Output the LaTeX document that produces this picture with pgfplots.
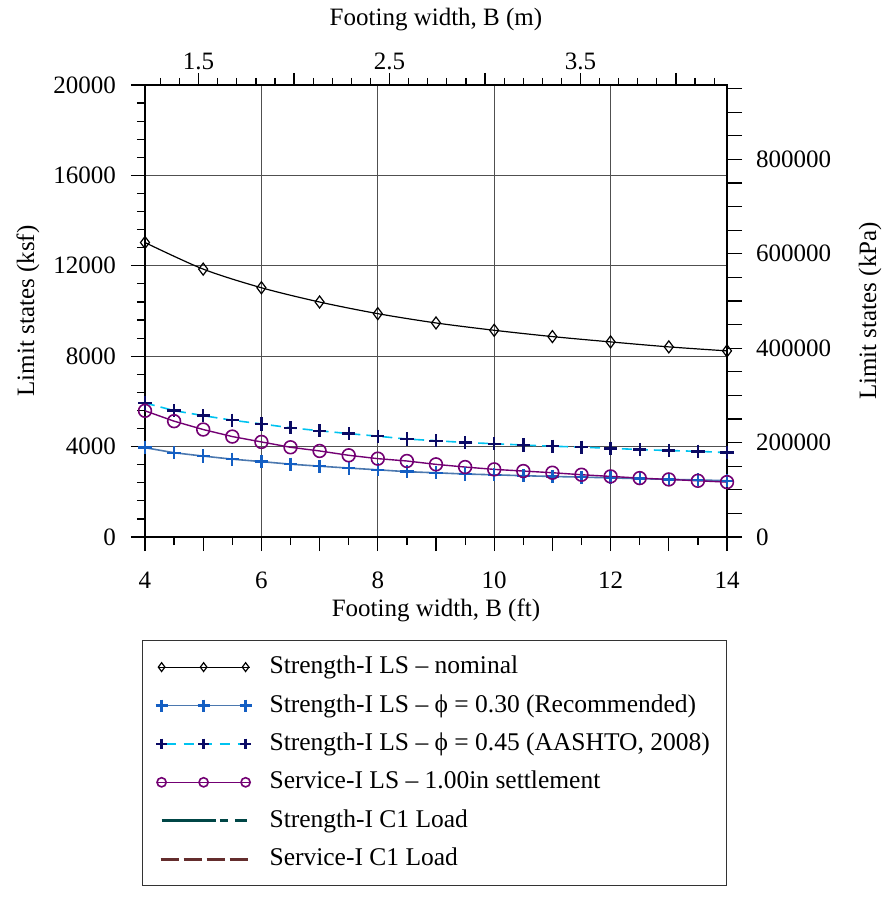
\documentclass[border=0pt]{standalone}
\usepackage{fontspec}
\setmainfont{Liberation Serif}
\usepackage{pgfplots}
\pgfplotsset{compat=1.18}
\definecolor{c30m}{RGB}{20,95,195}
\definecolor{c30l}{RGB}{75,120,175}
\definecolor{c45m}{RGB}{10,10,100}
\definecolor{c45l}{RGB}{0,195,240}
\definecolor{csv}{RGB}{115,0,115}
\definecolor{cc1}{RGB}{0,70,70}
\definecolor{csc1}{RGB}{100,45,45}
\definecolor{gridc}{RGB}{80,80,80}
\begin{document}
\begin{tikzpicture}[font=\fontsize{12.5}{15}\selectfont]
\path[use as bounding box] (-72.5pt,-180.5pt) rectangle (373pt,268.5pt);
% top axis (m)
\begin{axis}[at={(0,0)}, anchor=south west, width=291pt, height=226pt, scale only axis,
  xmin=1.2192, xmax=4.2672, ymin=0, ymax=1,
  axis x line*=top, axis y line=none, x axis line style={-, line width=0.7pt},
  xtick={1.5,2.5,3.5}, extra x ticks={2,3,4}, extra x tick labels={},
  minor xtick={1.3,1.4,...,4.25},
  tick align=outside, major tick length=6pt, minor tick length=3.5pt,
  tick style={black, line width=0.6pt},
  /pgf/number format/assume math mode=true,
  xticklabel style={/pgf/number format/fixed, /pgf/number format/precision=1, yshift=-2pt},
  xlabel={Footing width, B (m)},
  xlabel style={at={(axis description cs:0.5,1.145)}, anchor=center},
]
\end{axis}
% right axis (kPa)
\begin{axis}[at={(0,0)}, anchor=south west, width=291pt, height=226pt, scale only axis,
  xmin=0, xmax=1, ymin=0, ymax=957605.2,
  axis y line*=right, axis x line=none, y axis line style={-, line width=0.7pt},
  ytick={0,200000,...,800000}, minor ytick={50000,100000,...,950000},
  scaled y ticks=false,
  tick align=outside, major tick length=7.5pt, minor tick length=7.5pt,
  tick style={black, line width=0.6pt},
  /pgf/number format/assume math mode=true,
  yticklabel style={/pgf/number format/fixed, /pgf/number format/1000 sep={}, xshift=3.5pt},
  ylabel={Limit states (kPa)},
  ylabel style={at={(axis description cs:1.2457,0.5)}, anchor=center, rotate=0},
]
\end{axis}
% main axis
\begin{axis}[at={(0,0)}, anchor=south west, width=291pt, height=226pt, scale only axis,
  xmin=4, xmax=14, ymin=0, ymax=20000,
  xtick={4,6,...,14}, extra x ticks={5,7,9,11,13}, extra x tick labels={},
  extra x tick style={grid=none},
  minor xtick={4.5,5.5,...,13.5},
  ytick={0,4000,...,20000}, minor y tick num=4,
  scaled y ticks=false,
  xtick pos=left, ytick pos=left, tick align=outside,
  major tick length=7pt, minor tick length=4pt,
  tick style={black, line width=0.6pt},
  grid=major, major grid style={gridc, line width=0.6pt},
  axis line style={black, line width=0.7pt},
  /pgf/number format/assume math mode=true,
  xticklabel style={yshift=-7pt},
  yticklabel style={/pgf/number format/fixed, /pgf/number format/1000 sep={}, xshift=-4pt},
  xlabel={Footing width, B (ft)},
  xlabel style={at={(axis description cs:0.5,-0.1615)}, anchor=center},
  ylabel={Limit states (ksf)},
  ylabel style={at={(axis description cs:-0.201,0.5)}, anchor=center},
  clip=false,
  legend cell align=left,
  legend style={at={(axis description cs:0,0)}, anchor=north west, xshift=-1.5pt, yshift=-51.5pt,
    draw=black!80, line width=0.6pt, fill=white, inner xsep=6.5pt, inner ysep=5.5pt,
    row sep=3.7pt, column sep=7pt,
    font=\fontsize{12.75}{15}\selectfont,
    nodes={inner ysep=1.5pt, text height=9.5pt, text depth=3pt}},
]
\addplot[black, line width=0.6pt, smooth, mark=diamond, mark size=3pt, mark options={solid, black, line width=0.6pt},
  legend image code/.code={
    \draw[black, line width=0.6pt] (0pt,0pt) -- (46pt,0pt);
    \draw[black, line width=0.5pt] plot[mark=diamond, mark size=2.2pt, only marks] coordinates {(2pt,0pt) (23pt,0pt) (44pt,0pt)};
  }] table {
x y
4 13029
5 11853
6 11029
7 10397
8 9882
9 9471
10 9147
11 8868
12 8632
13 8412
14 8235
};
\addlegendentry{Strength-I LS -- nominal}
\addplot[c30l, line width=0.8pt, mark=+, mark size=3.3pt, mark options={solid, c30m, line width=1.2pt},
  legend image code/.code={
    \draw[c30l, line width=0.8pt] (0pt,0pt) -- (46pt,0pt);
    \draw[c30m, line width=1.1pt] plot[mark=+, mark size=3pt, only marks] coordinates {(2pt,0pt) (23pt,0pt) (44pt,0pt)};
  }] table {
x y
4 3953
4.5 3728
5 3580
5.5 3444
6 3336
6.5 3222
7 3133
7.5 3050
8 2973
8.5 2890
9 2840
9.5 2787
10 2752
10.5 2712
11 2678
11.5 2650
12 2616
12.5 2580
13 2550
13.5 2527
14 2490
};
\addlegendentry{Strength-I LS -- ϕ = 0.30 (Recommended)}
\addplot[c45l, line width=0.8pt, dash pattern=on 5pt off 3pt, mark=+, mark size=3.3pt, mark options={solid, c45m, line width=1.2pt},
  legend image code/.code={
    \draw[c45l, line width=0.8pt, dash pattern=on 5pt off 4pt] (4pt,0pt) -- (46pt,0pt);
    \draw[c45m, line width=1.1pt] plot[mark=+, mark size=2.6pt, only marks] coordinates {(2pt,0pt) (23pt,0pt) (44pt,0pt)};
  }] table {
x y
4 5930
4.5 5592
5 5370
5.5 5166
6 5004
6.5 4833
7 4700
7.5 4575
8 4460
8.5 4335
9 4260
9.5 4181
10 4128
10.5 4068
11 4017
11.5 3975
12 3924
12.5 3870
13 3825
13.5 3791
14 3735
};
\addlegendentry{Strength-I LS -- ϕ = 0.45 (AASHTO, 2008)}
\addplot[csv, line width=0.7pt, mark=o, mark size=3.2pt, mark options={solid, csv, line width=0.8pt},
  legend image code/.code={
    \draw[csv, line width=0.7pt] (0pt,0pt) -- (46pt,0pt);
    \draw[csv, line width=0.7pt, fill=white] plot[mark=o, mark size=2.3pt, only marks] coordinates {(2pt,0pt) (23pt,0pt) (44pt,0pt)};
  }] table {
x y
4 5584
4.5 5125
5 4755
5.5 4444
6 4207
6.5 3970
7 3807
7.5 3615
8 3467
8.5 3363
9 3214
9.5 3095
10 2992
10.5 2918
11 2844
11.5 2755
12 2681
12.5 2607
13 2547
13.5 2488
14 2429
};
\addlegendentry{Service-I LS -- 1.00in settlement}
\addlegendimage{legend image code/.code={
    \draw[cc1, line width=1.4pt, dash pattern=on 27pt off 2.2pt on 4.2pt off 3.3pt on 5.8pt off 20pt] (2pt,0pt) -- (44.5pt,0pt);
  }}
\addlegendentry{Strength-I C1 Load}
\addlegendimage{legend image code/.code={
    \draw[csc1, line width=1.4pt, dash pattern=on 9pt off 2.5pt] (1.5pt,0pt) -- (45pt,0pt);
  }}
\addlegendentry{Service-I C1 Load}
\end{axis}
\end{tikzpicture}
\end{document}
